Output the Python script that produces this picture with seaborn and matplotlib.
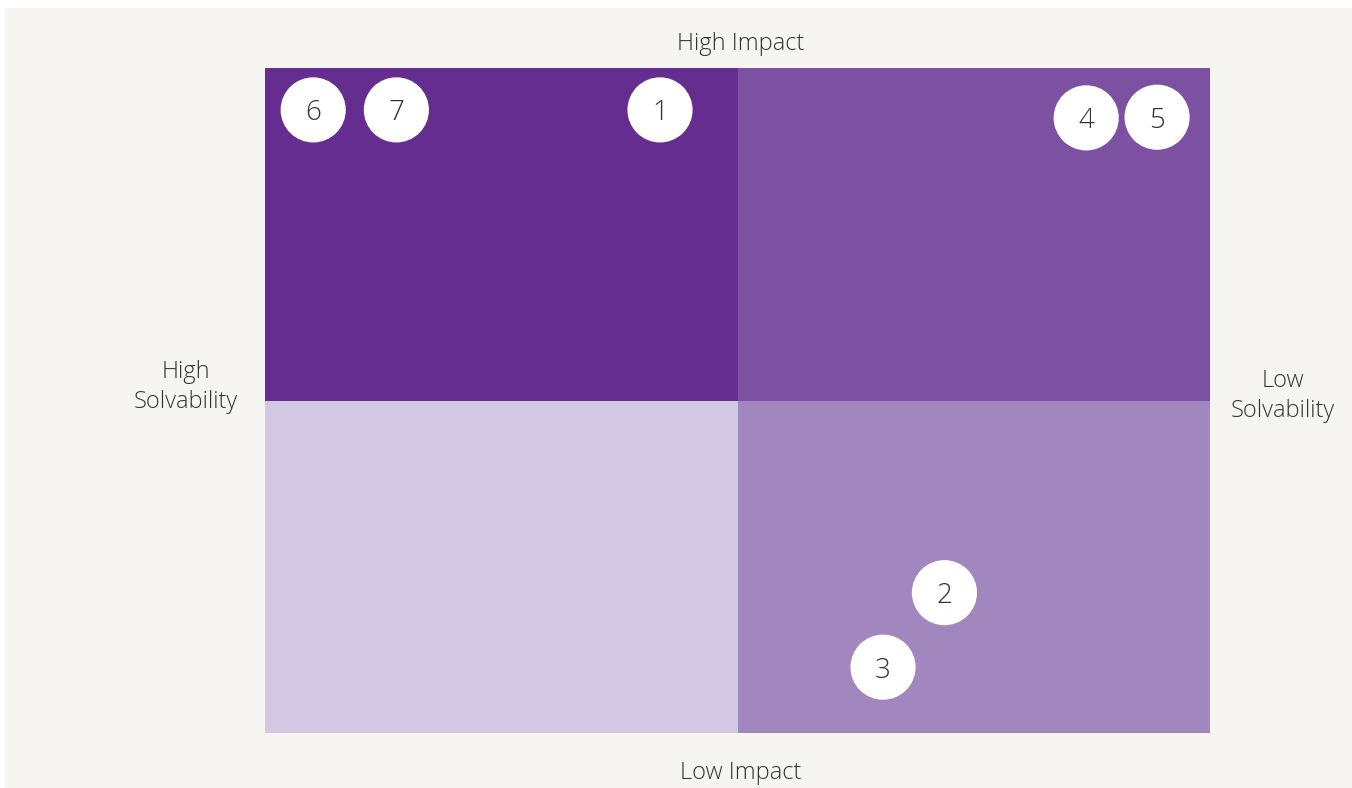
import matplotlib
matplotlib.use("Agg")
import matplotlib.pyplot as plt
import matplotlib.patches as mpatches
import seaborn as sns
import pandas as pd

# ---- data ----
labels = ["1", "2", "3", "4", "5", "6", "7"]
solvability_pos = [4.18, 7.19, 6.54, 8.69, 9.44, 0.51, 1.39]   # 0 = high solvability, 10 = low
impact_pos = [9.37, 2.11, 0.99, 9.25, 9.26, 9.37, 9.37]         # 0 = low impact, 10 = high
quad_x = [0, 5, 0, 5]
quad_y = [5, 5, 0, 0]
quad_colors = ["#652d90", "#7c51a1", "#d3c8e2", "#a287be"]
top_label = "High Impact"
bottom_label = "Low Impact"
left_label = "High\nSolvability"
right_label = "Low\nSolvability"

sns.set_theme(style="white")
plt.rcParams["font.family"] = ["Open Sans", "DejaVu Sans"]

BG = "#f6f5f1"
TXT = "#333333"

fig = plt.figure(figsize=(13.52, 7.88), dpi=100)
fig.patch.set_facecolor(BG)
# white margins at top and left
fig.patches.append(mpatches.Rectangle((0, 1 - 8 / 788), 1, 8 / 788,
                                      transform=fig.transFigure, facecolor="white",
                                      edgecolor="none", zorder=-10))
fig.patches.append(mpatches.Rectangle((0, 0), 5 / 1352, 1,
                                      transform=fig.transFigure, facecolor="white",
                                      edgecolor="none", zorder=-10))

ax = fig.add_axes([265 / 1352, 55 / 788, 945 / 1352, 665 / 788])
ax.set_xlim(0, 10)
ax.set_ylim(0, 10)
ax.set_facecolor(BG)

for qx, qy, qc in zip(quad_x, quad_y, quad_colors):
    ax.add_patch(mpatches.Rectangle((qx, qy), 5, 5, facecolor=qc, edgecolor="none", zorder=0))

df = pd.DataFrame({"x": solvability_pos, "y": impact_pos, "label": labels})
sns.scatterplot(data=df, x="x", y="y", s=2200, color="white", edgecolor="none",
                ax=ax, zorder=3, legend=False)
for _, r in df.iterrows():
    ax.text(r["x"], r["y"], r["label"], ha="center", va="center_baseline", fontsize=20,
            color=TXT, fontweight="light", zorder=4)

ax.set_xlabel("")
ax.set_ylabel("")
ax.set_xticks([])
ax.set_yticks([])
for s in ax.spines.values():
    s.set_visible(False)

kw = dict(ha="center", va="center", fontsize=17, color=TXT, fontweight="light")
fig.text(741 / 1352, 1 - 44 / 788, top_label, **kw)
fig.text(741 / 1352, 1 - 773 / 788, bottom_label, **kw)
fig.text(186 / 1352, 1 - 387 / 788, left_label, linespacing=1.3, **kw)
fig.text(1283 / 1352, 1 - 396 / 788, right_label, linespacing=1.3, **kw)

fig.savefig("out.png", dpi=100, facecolor=fig.get_facecolor())
